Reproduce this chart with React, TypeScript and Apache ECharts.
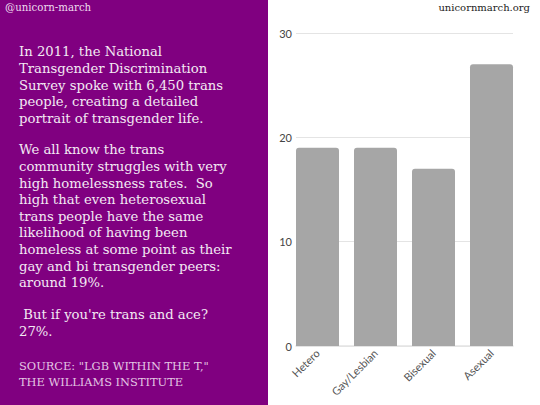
import React, { useEffect, useRef } from "react";
import * as echarts from "echarts";

const categories = ["Hetero", "Gay/Lesbian", "Bisexual", "Asexual"];
const homelessPct = [19, 19, 17, 27];
const yTicks = [0, 10, 20, 30];

const para1 = [
  "In 2011, the National",
  "Transgender Discrimination",
  "Survey spoke with 6,450 trans",
  "people, creating a detailed",
  "portrait of transgender life.",
];
const para2 = [
  "We all know the trans",
  "community struggles with very",
  "high homelessness rates.  So",
  "high that even heterosexual",
  "trans people have the same",
  "likelihood of having been",
  "homeless at some point as their",
  "gay and bi transgender peers:",
  "around 19%.",
];
const para3 = [" But if you're trans and ace?", "27%."];
const sourceLines = ['SOURCE: "LGB WITHIN THE T,"', "THE WILLIAMS INSTITUTE"];

export default function App() {
  const ref = useRef<HTMLDivElement>(null);
  useEffect(() => {
    document.body.style.margin = "0";
    const chart = echarts.init(ref.current!, undefined, { renderer: "svg" });
    const serif = "DejaVu Serif";
    const bodyText = (lines: string[], top: number) => ({
      type: "text",
      left: 19,
      top,
      style: {
        text: lines.join("\n"),
        fill: "#f3e9f3",
        fontFamily: serif,
        fontSize: 13.2,
        lineHeight: 16.6,
      },
    });
    chart.setOption({
      animation: false,
      backgroundColor: "#ffffff",
      graphic: [
        { type: "rect", shape: { x: 0, y: 0, width: 268, height: 405 }, style: { fill: "#800080" }, z: -10 },
        { type: "text", left: 5, top: 2.5, style: { text: "@unicorn-march", fill: "#eedcee", fontFamily: serif, fontSize: 10.2 } },
        { type: "text", right: 10, top: 2.5, style: { text: "unicornmarch.org", fill: "#222222", fontFamily: serif, fontSize: 10 } },
        bodyText(para1, 43.5),
        bodyText(para2, 141.5),
        bodyText(para3, 306.5),
        {
          type: "text",
          left: 19,
          top: 358,
          style: { text: sourceLines.join("\n"), fill: "#e3c6e3", fontFamily: serif, fontSize: 11.4, lineHeight: 16 },
        },
      ],
      grid: [
        { left: 296, right: 27, top: 33, bottom: 59 },
        { left: 288.5, right: 19.5, top: 33, bottom: 59 },
      ],
      xAxis: [
        {
          gridIndex: 0,
          type: "value",
          min: 0,
          max: 1,
          axisLine: { show: true, lineStyle: { color: "#e4e4e4", width: 1.5 } },
          axisTick: { show: false },
          axisLabel: { show: false },
          splitLine: { show: false },
        },
        {
          gridIndex: 1,
          type: "category",
          data: categories,
          axisLine: { show: false },
          axisTick: { show: false },
          axisLabel: {
            rotate: 45,
            interval: 0,
            color: "#555555",
            fontFamily: "Lato",
            fontSize: 11,
            margin: 5,
          },
        },
      ],
      yAxis: [
        {
          gridIndex: 0,
          type: "value",
          min: yTicks[0],
          max: yTicks[yTicks.length - 1],
          interval: 10,
          axisLine: { show: false },
          axisTick: { show: false },
          axisLabel: { color: "#444444", fontFamily: "Lato", fontSize: 11, margin: 4 },
          splitLine: { show: true, lineStyle: { color: "#e4e4e4" } },
        },
        {
          gridIndex: 1,
          type: "value",
          min: yTicks[0],
          max: yTicks[yTicks.length - 1],
          interval: 10,
          show: false,
        },
      ],
      series: [
        {
          type: "bar",
          xAxisIndex: 1,
          yAxisIndex: 1,
          data: homelessPct,
          barWidth: 43,
          itemStyle: { color: "#a6a6a6", borderRadius: [3, 3, 0, 0] },
          z: 3,
        },
      ],
    });
    return () => chart.dispose();
  }, []);
  return <div ref={ref} style={{ width: 540, height: 405 }} />;
}
